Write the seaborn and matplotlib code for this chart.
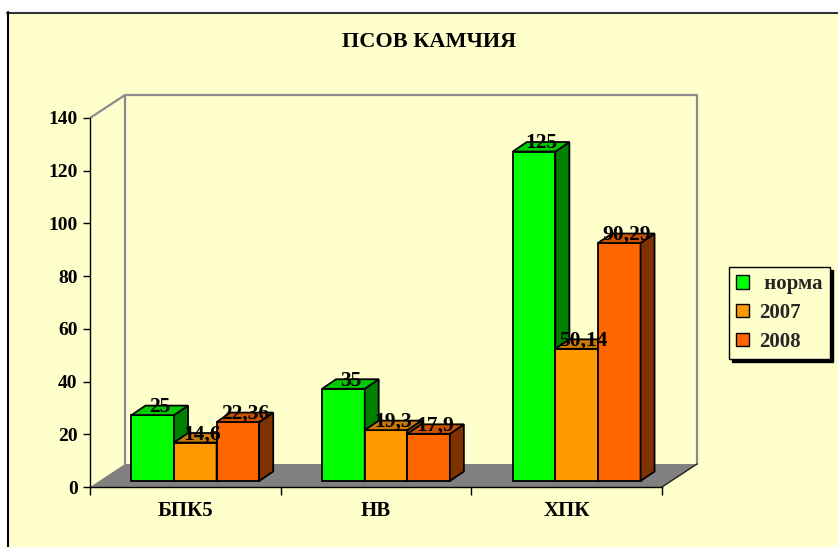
import numpy as np
import pandas as pd
import matplotlib
matplotlib.use('Agg')
import matplotlib.pyplot as plt
import seaborn as sns
from matplotlib.patches import Polygon, Rectangle, Patch
from matplotlib.lines import Line2D

# ---- data ----
categories = ['БПК5', 'НВ', 'ХПК']
series = ['норма', '2007', '2008']
legend_labels = [' норма', '2007', '2008']
norma = [25, 35, 125]
y2007 = [14.6, 19.3, 50.14]
y2008 = [22.36, 17.9, 90.29]
yticks = [0, 20, 40, 60, 80, 100, 120, 140]
title = 'ПСОВ КАМЧИЯ'
colors = ['#00FF00', '#FF9900', '#FF6600']

BG = '#FFFFCC'
W, H = 838, 547
sns.set_theme(style='white')
plt.rcParams['font.family'] = ['Liberation Serif', 'DejaVu Serif']
plt.rcParams['font.weight'] = 'bold'
FS_TICK = 14
FS_LAB = 15.5
FS_X = 15
FS_LEG = 15
FS_TITLE = 16

fig = plt.figure(figsize=(W / 100, H / 100), dpi=100, facecolor='white')
fig.add_artist(Rectangle((7 / W, 0), 1 - 7 / W, 1 - 12 / H, transform=fig.transFigure,
                         facecolor=BG, edgecolor='none', zorder=-10))
fig.add_artist(Line2D([7 / W, 1], [1 - 12.5 / H] * 2, transform=fig.transFigure,
                      color='#333333', lw=1.5))
fig.add_artist(Line2D([7.5 / W] * 2, [0, 1 - 12 / H], transform=fig.transFigure,
                      color='black', lw=1.5))

x0, x1 = 90, 662
y0, y1 = 487, 118
ax = fig.add_axes([x0 / W, 1 - y0 / H, (x1 - x0) / W, (y0 - y1) / H])
ax.set_facecolor('none')

df = pd.DataFrame({
    'Показатель': categories * 3,
    'Серия': [s for s in series for _ in categories],
    'Значение': norma + y2007 + y2008,
})
sns.barplot(data=df, x='Показатель', y='Значение', hue='Серия', hue_order=series,
            palette=colors, width=0.67, gap=0, edgecolor='black', linewidth=1.3,
            saturation=1, legend=False, errorbar=None, ax=ax)

ax.set_xlim(-0.5, 2.5)
ax.set_ylim(0, 140)
PXX = (x1 - x0) / 3.0
PXY = (y0 - y1) / 140.0
ox, oy = 10 / PXX, 6 / PXY
dx, dy = 14 / PXX, 9.5 / PXY
bx, by = 35 / PXX, 23 / PXY

# floor and walls
ax.add_patch(Polygon([(-0.5, 0), (2.5, 0), (2.5 + bx, by), (-0.5 + bx, by)],
                     closed=True, facecolor='#808080', edgecolor='none', zorder=1, clip_on=False))
ax.plot([-0.5 + bx, -0.5 + bx, 2.5 + bx, 2.5 + bx], [by, 140 + by, 140 + by, by],
        color='#8c8c8c', lw=1.6, zorder=1.2, clip_on=False)
ax.plot([-0.5, -0.5 + bx], [140, 140 + by], color='#8c8c8c', lw=1.6, zorder=1.2, clip_on=False)
ax.plot([2.5, 2.5 + bx], [0, by], color='#202020', lw=1.0, zorder=1.3, clip_on=False)

# 3D faces
bars = sorted([p for p in ax.patches if isinstance(p, Rectangle)], key=lambda p: p.get_x())
for i, p in enumerate(bars):
    base = 3 + i * 0.01
    p.set_zorder(base)
    p.set_x(p.get_x() + ox)
    p.set_y(oy)
    h = p.get_height()
    xl = p.get_x()
    w = p.get_width()
    top = oy + h
    fc = np.array(p.get_facecolor()[:3])
    side = Polygon([(xl + w, oy), (xl + w + dx, oy + dy), (xl + w + dx, top + dy), (xl + w, top)],
                   closed=True, facecolor=fc * 0.5, edgecolor='black', lw=1.3,
                   zorder=base + 0.001, clip_on=False)
    topf = Polygon([(xl, top), (xl + dx, top + dy), (xl + w + dx, top + dy), (xl + w, top)],
                   closed=True, facecolor=fc * 0.8, edgecolor='black', lw=1.3,
                   zorder=base + 0.002, clip_on=False)
    ax.add_patch(side)
    ax.add_patch(topf)
    label = f'{h:g}'.replace('.', ',')
    ax.text(xl + w / 2 + dx / 2, top + 1.2, label, ha='center', va='baseline',
            fontsize=FS_LAB, fontweight='bold', color='black', zorder=10)

# axes styling
for s in ['top', 'right']:
    ax.spines[s].set_visible(False)
for s in ['left', 'bottom']:
    ax.spines[s].set_color('black')
    ax.spines[s].set_linewidth(1.0)
    ax.spines[s].set_zorder(2.5)
ax.set_yticks(yticks)
ax.set_yticklabels([str(t) for t in yticks], fontsize=FS_TICK, fontweight='bold')
ax.tick_params(axis='y', length=5, width=1, color='black', direction='out', pad=4,
               labelcolor='black', left=True)
ax.set_xticks([0, 1, 2])
ax.set_xticklabels(categories, fontsize=FS_X, fontweight='bold')
ax.set_xticks([-0.5, 0.5, 1.5, 2.5], minor=True)
ax.tick_params(axis='x', which='major', length=0, pad=10, labelcolor='black')
ax.tick_params(axis='x', which='minor', length=6, width=1, color='black', direction='out', bottom=True)
ax.set_xlabel('')
ax.set_ylabel('')
ax.grid(False)

fig.text(429 / W, 1 - 42 / H, title, ha='center', va='center', fontsize=FS_TITLE,
         fontweight='bold', color='black')

handles = [Patch(facecolor=c, edgecolor='black', lw=1) for c in colors]
leg = fig.legend(handles, legend_labels, loc='upper left', bbox_to_anchor=(729 / W, 1 - 267 / H),
                 frameon=True, fancybox=False, edgecolor='black', facecolor=BG, framealpha=1,
                 shadow={'color': 'black', 'alpha': 1},
                 prop={'weight': 'bold', 'size': FS_LEG},
                 handlelength=0.6, handleheight=0.6, handletextpad=0.5,
                 labelspacing=0.42, borderpad=0.35, borderaxespad=0)
leg.get_frame().set_linewidth(1)

fig.savefig('out.png', dpi=100, facecolor=fig.get_facecolor())
